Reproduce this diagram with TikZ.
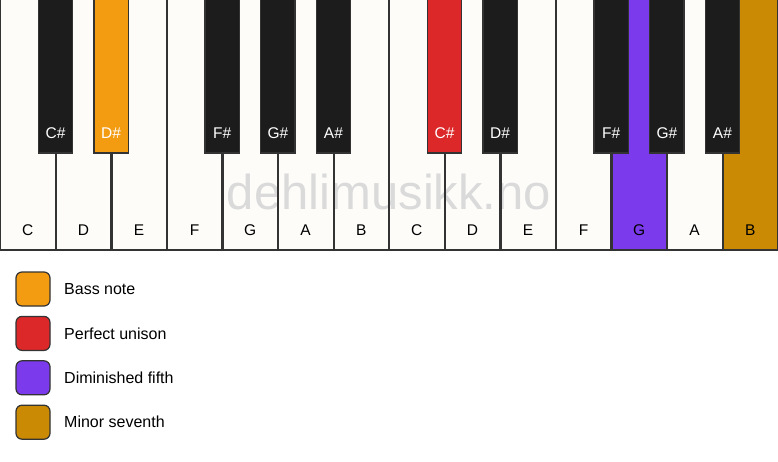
\documentclass[tikz,border=0pt]{standalone}
\usepackage{fontspec}
\setmainfont{Liberation Sans}
\definecolor{wkey}{HTML}{FDFCF9}
\definecolor{bkey}{HTML}{1C1C1C}
\definecolor{kline}{HTML}{333333}
\definecolor{cbass}{HTML}{F39C12}
\definecolor{cuni}{HTML}{DC2828}
\definecolor{cdim}{HTML}{7C3AED}
\definecolor{csev}{HTML}{CA8A04}
\definecolor{wmark}{HTML}{DADADA}
\tikzset{
  whitekey/.style={draw=kline, line width=1.4pt, fill=wkey},
  blackkey/.style={draw=kline, line width=1.2pt, fill=bkey},
  wlabel/.style={font=\fontsize{15.5}{18}\selectfont, text=black, inner sep=0pt},
  blabel/.style={font=\fontsize{15.5}{18}\selectfont, text=white, inner sep=0pt},
  legbox/.style={draw=kline, line width=1.2pt, rounded corners=6pt, minimum width=34pt, minimum height=34pt, inner sep=0pt},
  legtext/.style={font=\fontsize{16}{19}\selectfont, anchor=west, inner sep=0pt},
}
\begin{document}
\begin{tikzpicture}[x=1pt,y=-1pt]
\useasboundingbox (0,0) rectangle (778,461);
\fill[white] (0,0) rectangle (778,461);
\def\w{55.571}
% white key fills
\foreach \i/\c in {0/wkey,1/wkey,2/wkey,3/wkey,4/wkey,5/wkey,6/wkey,7/wkey,8/wkey,9/wkey,10/wkey,11/cdim,12/wkey,13/csev}{
  \fill[\c] ({\i*\w+0.7},-2) rectangle ({(\i+1)*\w-0.1},250);
}
% watermark
\node[text=wmark, font=\fontsize{49}{54}\selectfont, inner sep=0pt] (wm) at (389,192) {dehlimusikk.no};
% white key outlines and labels
\foreach \i/\n in {0/C,1/D,2/E,3/F,4/G,5/A,6/B,7/C,8/D,9/E,10/F,11/G,12/A,13/B}{
  \draw[whitekey, fill=none] ({\i*\w+0.7},-2) rectangle ({(\i+1)*\w-0.1},250);
  \node[wlabel] (w\i) at ({(\i+0.5)*\w},230) {\n};
}
% black keys
\foreach \b/\n/\c in {1/C\#/bkey,2/D\#/cbass,4/F\#/bkey,5/G\#/bkey,6/A\#/bkey,8/C\#/cuni,9/D\#/bkey,11/F\#/bkey,12/G\#/bkey,13/A\#/bkey}{
  \draw[blackkey, fill=\c] ({\b*\w-17.2},-2) rectangle ({\b*\w+17.2},153);
  \node[blabel] (b\b) at ({\b*\w},133) {\n};
}
% legend
\foreach \k/\c/\t [count=\j from 0] in {a/cbass/Bass note,b/cuni/Perfect unison,c/cdim/Diminished fifth,d/csev/Minor seventh}{
  \node[legbox, fill=\c] (L\k) at (33,{289+\j*44.4}) {};
  \node[legtext] (T\k) at (64,{289+\j*44.4}) {\t};
}
\end{tikzpicture}
\end{document}
